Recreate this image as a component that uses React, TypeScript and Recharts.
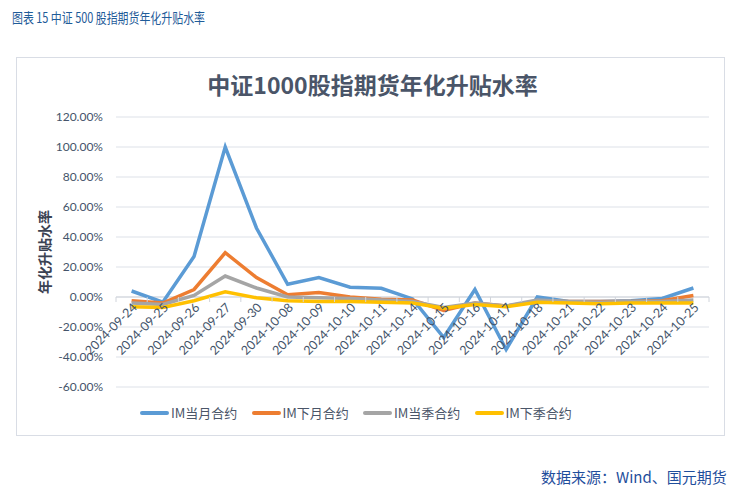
import { LineChart, Line, CartesianGrid, XAxis, YAxis, ReferenceLine } from "recharts";

const dates = [
  "2024-09-24", "2024-09-25", "2024-09-26", "2024-09-27", "2024-09-30",
  "2024-10-08", "2024-10-09", "2024-10-10", "2024-10-11", "2024-10-14",
  "2024-10-15", "2024-10-16", "2024-10-17", "2024-10-18", "2024-10-21",
  "2024-10-22", "2024-10-23", "2024-10-24", "2024-10-25",
];

// 年化升贴水率 (%)
const imCurMonth = [4, -3.5, 27, 100, 46, 8.5, 13, 6.5, 5.8, -1.3, -27, 5, -35, 0, -3, -3, -2.5, -1, 6];
const imNextMonth = [-2.5, -4, 5, 29.5, 13, 1.5, 3, 0, -1.5, -2, -9, -4, -6, -3, -3, -3, -3, -2.5, 1];
const imCurQuarter = [-4, -5, 1, 14, 6, 0, -0.5, -1, -2, -3, -7, -4, -6, -2, -3, -3.5, -3, -3, -2];
const imNextQuarter = [-6.5, -7, -2.5, 3.5, -0.5, -2.5, -3, -3, -3.5, -4, -7.5, -5, -6.5, -3.5, -4, -4.5, -4, -4, -4];

const yTicks = [-60, -40, -20, 0, 20, 40, 60, 80, 100, 120];

const series = [
  { key: "cm", name: "IM当月合约", color: "#5b9bd5" },
  { key: "nm", name: "IM下月合约", color: "#ed7d31" },
  { key: "cq", name: "IM当季合约", color: "#a5a5a5" },
  { key: "nq", name: "IM下季合约", color: "#ffc000" },
];

const data = dates.map((d, i) => ({
  date: d,
  cm: imCurMonth[i],
  nm: imNextMonth[i],
  cq: imCurQuarter[i],
  nq: imNextQuarter[i],
}));

const W = 745;
const H = 497;
const M = { top: 117, right: 36, left: 36, bottom: 80 };
const Y_W = 80;
const X_H = 30;
const PLOT_W = W - M.left - M.right - Y_W;
const PLOT_H = H - M.top - M.bottom - X_H;
const Y_MIN = -60;
const Y_MAX = 120;
// distance from plot bottom up to the 0% line
const ZERO_UP = (PLOT_H * (0 - Y_MIN)) / (Y_MAX - Y_MIN);
const BAND = PLOT_W / dates.length;

const textColor = "#44546a";

function XTick(props: any) {
  const { x, y, payload, index } = props;
  const zy = y - ZERO_UP;
  return (
    <g>
      <line x1={x - BAND / 2} x2={x - BAND / 2} y1={zy} y2={zy + 5} stroke="#d0d4db" />
      {index === dates.length - 1 && (
        <line x1={x + BAND / 2} x2={x + BAND / 2} y1={zy} y2={zy + 5} stroke="#d0d4db" />
      )}
      <text
        transform={`translate(${x + 4},${zy + 9}) rotate(-45)`}
        textAnchor="end"
        dominantBaseline="middle"
        fontSize={12.5}
        fontFamily="Lato, 'Liberation Sans', sans-serif"
        fill={textColor}
      >
        {payload.value}
      </text>
    </g>
  );
}

export default function App() {
  return (
    <div
      style={{
        position: "absolute",
        left: 0,
        top: 0,
        width: W,
        height: H,
        background: "#fff",
        overflow: "hidden",
        fontFamily: "'Noto Sans CJK SC', sans-serif",
      }}
    >
      <div
        style={{
          position: "absolute",
          left: 12,
          top: 7,
          fontSize: 14,
          lineHeight: "20px",
          color: "#1f5c99",
          whiteSpace: "nowrap",
          transform: "scaleX(0.78)",
          transformOrigin: "left center",
        }}
      >
        图表 15 中证 500 股指期货年化升贴水率
      </div>

      <div
        style={{
          position: "absolute",
          left: 16,
          top: 57,
          width: 709,
          height: 379,
          border: "1px solid #d9dde5",
          boxSizing: "border-box",
        }}
      />

      <div
        style={{
          position: "absolute",
          left: 0,
          width: W,
          top: 67,
          textAlign: "center",
          fontSize: 23,
          fontWeight: 700,
          color: "#4a5568",
        }}
      >
        中证1000股指期货年化升贴水率
      </div>

      <div style={{ position: "absolute", left: 0, top: 0 }}>
        <LineChart width={W} height={H} data={data} margin={M}>
          <CartesianGrid vertical={false} stroke="#dde1e8" />
          <XAxis
            dataKey="date"
            interval={0}
            axisLine={false}
            tickLine={false}
            tickSize={0}
            tickMargin={0}
            height={X_H}
            padding={{ left: BAND / 2, right: BAND / 2 }}
            tick={<XTick />}
          />
          <YAxis
            width={Y_W}
            domain={[Y_MIN, Y_MAX]}
            ticks={yTicks}
            axisLine={false}
            tickLine={false}
            tickSize={0}
            tickMargin={13}
            tickFormatter={(v: number) => `${v.toFixed(2)}%`}
            tick={{ fontSize: 12, fill: textColor, fontFamily: "Lato, 'Liberation Sans', sans-serif" }}
            label={{
              value: "年化升贴水率",
              angle: -90,
              position: "insideLeft",
              offset: 9,
              style: { textAnchor: "middle", fontSize: 14, fontWeight: 700, fill: "#3b4252" },
            }}
          />
          <ReferenceLine y={0} stroke="#d0d4db" />
          {series.map((s) => (
            <Line
              key={s.key}
              type="linear"
              dataKey={s.key}
              name={s.name}
              stroke={s.color}
              strokeWidth={3.5}
              dot={false}
              isAnimationActive={false}
            />
          ))}
        </LineChart>
      </div>

      <div
        style={{
          position: "absolute",
          left: 140,
          top: 403,
          display: "flex",
          alignItems: "center",
          fontSize: 13,
          color: "#4a5568",
        }}
      >
        {series.map((s) => (
          <div key={s.key} style={{ display: "flex", alignItems: "center", width: 111.5 }}>
            <span
              style={{
                display: "inline-block",
                width: 29,
                height: 4,
                borderRadius: 2,
                background: s.color,
                marginRight: 2,
              }}
            />
            <span>{s.name}</span>
          </div>
        ))}
      </div>

      <div
        style={{
          position: "absolute",
          left: 541,
          top: 466,
          fontSize: 15,
          color: "#1f4e9c",
          whiteSpace: "nowrap",
        }}
      >
        数据来源：Wind、国元期货
      </div>
    </div>
  );
}
